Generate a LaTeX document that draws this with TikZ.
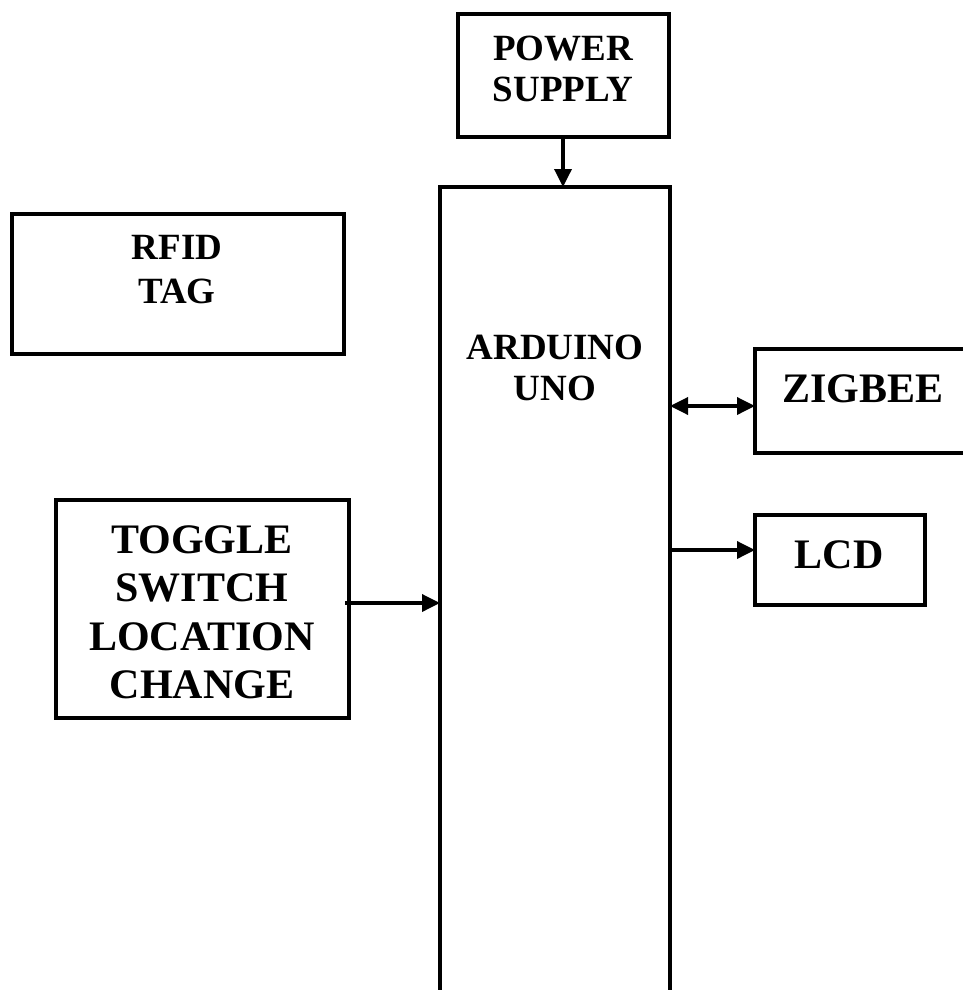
\documentclass[tikz,border=0pt]{standalone}
\usepackage{fontspec}
\setmainfont{Liberation Serif}
\usetikzlibrary{arrows.meta}
\tikzset{
  blk/.style={draw=black,line width=3.5pt,anchor=north west,inner sep=0pt,outer sep=0pt},
  lbl/.style={anchor=north,align=center,inner sep=0pt,font=\bfseries\fontsize{37}{41}\selectfont},
  biglbl/.style={lbl,font=\bfseries\fontsize{42}{48.5}\selectfont},
  conn/.style={line width=3.5pt,-{Triangle[length=18pt,width=17pt]}},
  dconn/.style={line width=3.5pt,{Triangle[length=18pt,width=17pt]}-{Triangle[length=18pt,width=17pt]}}
}
\begin{document}
\begin{tikzpicture}[x=1pt,y=-1pt]
\useasboundingbox (0,0) rectangle (963,990);
\clip (0,0) rectangle (963,990);
% boxes
\node[blk,minimum width=211pt,minimum height=123pt] (ps) at (458,14) {};
\node[blk,minimum width=230pt,minimum height=830pt] (uno) at (440,187) {};
\node[blk,minimum width=332pt,minimum height=140pt] (rfid) at (12,214) {};
\node[blk,minimum width=240pt,minimum height=104pt] (zig) at (755,349) {};
\node[blk,minimum width=170pt,minimum height=90pt] (lcd) at (755,515) {};
\node[blk,minimum width=293pt,minimum height=218pt] (tog) at (56,500) {};
% labels
\node[lbl] (pstxt) at (563,36) {POWER\\SUPPLY};
\node[lbl] (rfidtxt) at (177,235) {RFID\\[3pt]TAG};
\node[lbl] (unotxt) at (555,335) {ARDUINO\\UNO};
\node[biglbl] (zigtxt) at (863,374) {ZIGBEE};
\node[biglbl] (lcdtxt) at (839,540) {LCD};
\node[biglbl] (togtxt) at (202,525) {TOGGLE\\SWITCH\\LOCATION\\CHANGE};
% connectors
\coordinate (togout) at (345,603);
\draw[conn] (ps.south -| 563,0) -- (uno.north -| 563,0);
\draw[conn] (togout) -- (togout -| uno.west);
\draw[dconn] (uno.east |- 0,406) -- (zig.west |- 0,406);
\draw[conn] (uno.east |- 0,550) -- (lcd.west |- 0,550);
\end{tikzpicture}
\end{document}
